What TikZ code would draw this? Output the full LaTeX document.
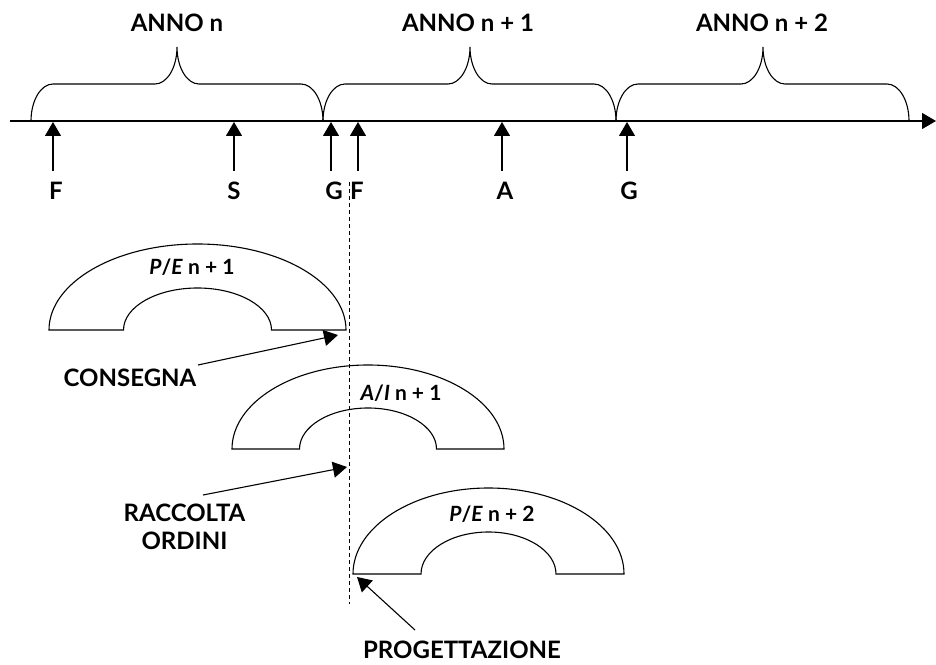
\documentclass[tikz,border=0pt]{standalone}
\usepackage{fontspec}
\setmainfont{Lato}
\usetikzlibrary{arrows.meta}

% curly brace spanning one year on the time axis: left end, peak, right end
\newcommand\YearBrace[3]{%
  \draw[thinline] (#1,543) arc[start angle=180,end angle=90,x radius=22,y radius=37]
    -- (#2-22,580) arc[start angle=270,end angle=360,x radius=22,y radius=37]
    arc[start angle=180,end angle=270,x radius=22,y radius=37]
    -- (#3-22,580) arc[start angle=90,end angle=0,x radius=22,y radius=37];}

% half-ring: centre x, base y, outer radii, inner radii
\newcommand\HalfRing[6]{%
  \draw[thinline] (#1-#3,#2) arc[start angle=180,end angle=0,x radius=#3,y radius=#4]
    -- (#1+#5,#2) arc[start angle=0,end angle=180,x radius=#5,y radius=#6] -- cycle;}

\begin{document}
\begin{tikzpicture}[x=1pt,y=1pt,
  thinline/.style={line width=1.1pt},
  tipped/.style={thinline,-{Triangle[length=14pt,width=16pt]}},
  biglbl/.style={font=\fontsize{24}{27.5}\selectfont\bfseries, inner sep=0pt, anchor=base, align=center},
  ringlbl/.style={font=\fontsize{21}{25}\selectfont\bfseries, inner sep=0pt, anchor=base},
]
\useasboundingbox (0,0) rectangle (936,664);

% time axis
\coordinate (ax0) at (10,543);
\coordinate (ax1) at (936,543);
\draw[tipped] (ax0) -- (ax1);

% years
\YearBrace{31}{177}{323}
\YearBrace{323}{470}{616}
\YearBrace{616}{763}{909}
\node[biglbl] (y0) at (177,632) {ANNO n};
\node[biglbl] (y1) at (468,632) {ANNO n + 1};
\node[biglbl] (y2) at (762,632) {ANNO n + 2};

% events on the axis
\foreach \nm/\ax/\lx/\txt in {f1/53/56/F, s1/234/234/S, g1/331/334/G, f2/358/357/F, a1/502/505/A, g2/627/629/G}{
  \coordinate (\nm b) at (\ax,493);
  \coordinate (\nm t) at (\ax,542);
  \draw[tipped] (\nm b) -- (\nm t);
  \node[biglbl] (\nm) at (\lx,464) {\txt};
}

% phases
\HalfRing{197.5}{334}{148.5}{86}{74}{42}
\HalfRing{368}{215}{136}{84}{68.5}{41}
\HalfRing{488.5}{90}{135.5}{86}{67.5}{42}
\node[ringlbl] (pe1) at (192,389) {\textit{P}/\textit{E} n + 1};
\node[ringlbl] (ai1) at (401,263) {\textit{A}/\textit{I} n + 1};
\node[ringlbl] (pe2) at (492,143) {\textit{P}/\textit{E} n + 2};

% milestones
\node[biglbl] (cons) at (130,277) {CONSEGNA};
\node[biglbl] (racc) at (184.5,115) {RACCOLTA\\ORDINI};
\node[biglbl] (prog) at (462,6) {PROGETTAZIONE};
\coordinate (consA) at (198,299);
\coordinate (consB) at (338,329);
\coordinate (raccA) at (203,169);
\coordinate (raccB) at (347,197);
\coordinate (progA) at (415,34);
\coordinate (progB) at (357,87);
\draw[tipped] (consA) -- (consB);
\draw[tipped] (raccA) -- (raccB);
\draw[tipped] (progA) -- (progB);

% dividing line
\coordinate (cut0) at (349,482);
\coordinate (cut1) at (349,60);
\draw[line width=1pt, dash pattern=on 4pt off 3pt] (cut0) -- (cut1);
\end{tikzpicture}
\end{document}
